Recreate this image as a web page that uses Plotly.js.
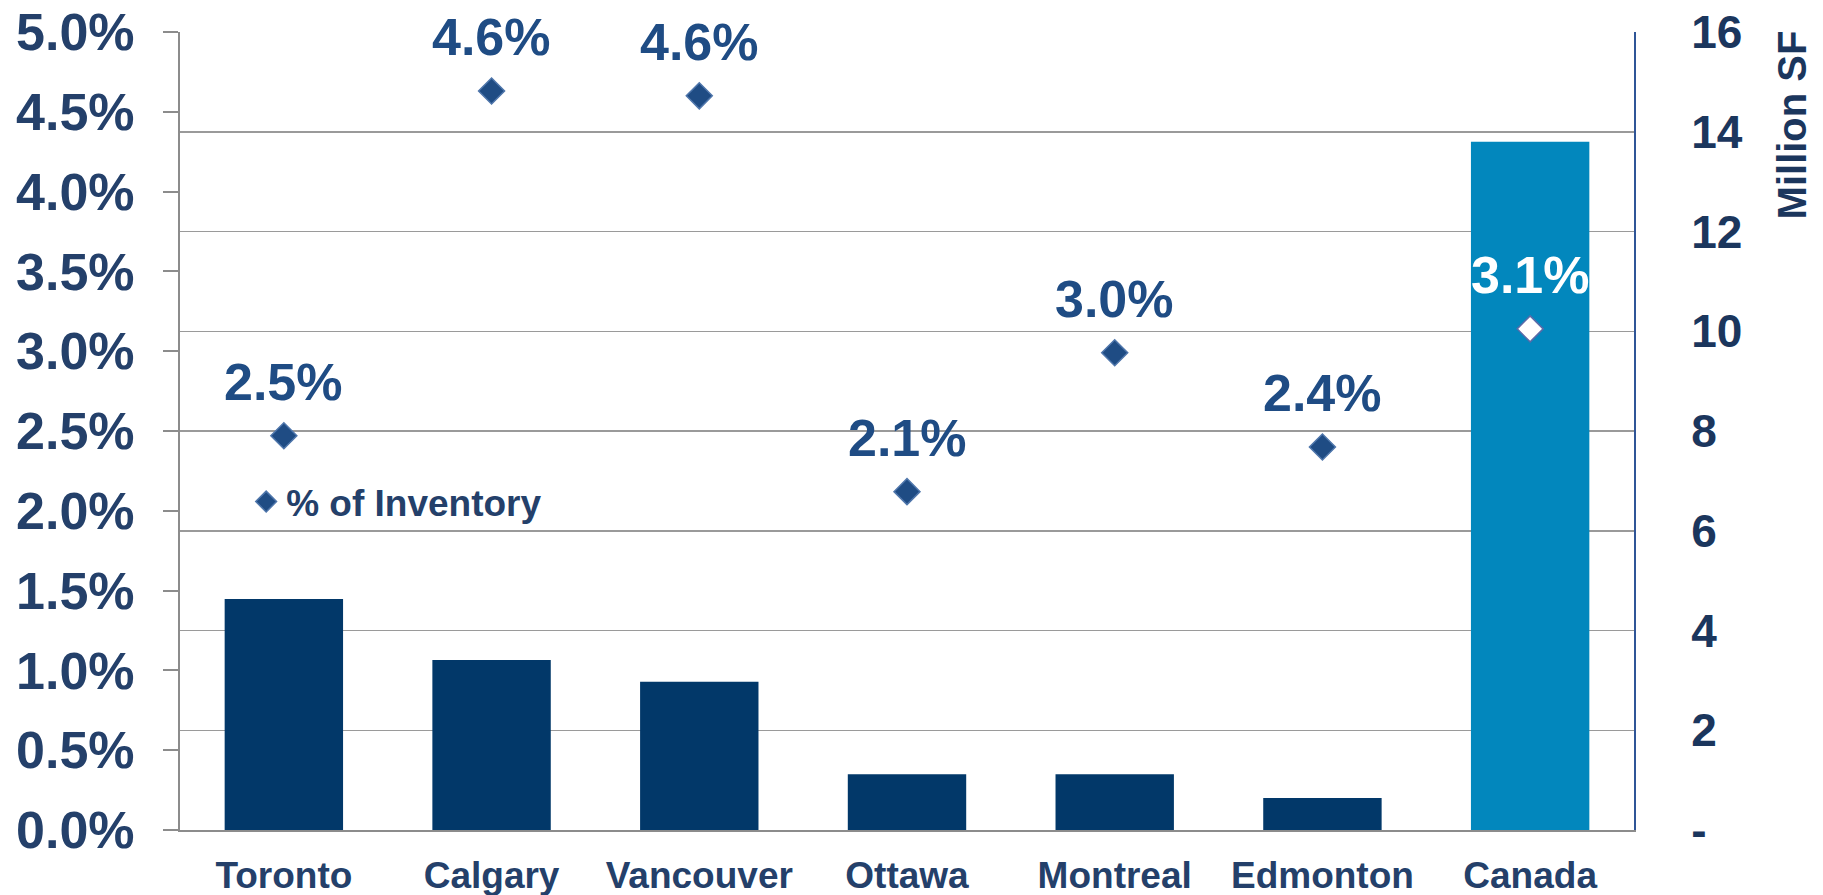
<!DOCTYPE html>
<html>
<head>
<meta charset="utf-8">
<script src="https://cdn.plot.ly/plotly-3.0.1.min.js"></script>
<style>html,body{margin:0;padding:0;background:#fff;}#chart{width:1823px;height:895px;}</style>
</head>
<body>
<div id="chart"></div>
<script>
const categories = ["Toronto", "Calgary", "Vancouver", "Ottawa", "Montreal", "Edmonton", "Canada"];
const millionSF = [4.63, 3.41, 2.97, 1.12, 1.12, 0.64, 13.8];
const pctInventory = [0.0247, 0.0463, 0.046, 0.0212, 0.0299, 0.0240, 0.0314];
const pctLabels = ["2.5%", "4.6%", "4.6%", "2.1%", "3.0%", "2.4%", "3.1%"];
const rightTickVals = [0, 2, 4, 6, 8, 10, 12, 14, 16];
const rightTickText = ["-", "2", "4", "6", "8", "10", "12", "14", "16"];

const FONT = "Liberation Sans, Arial, sans-serif";
const NAVY = "#24406a";

const barColors = categories.map(c => c === "Canada" ? "#0287bd" : "#023869");
const diamondColors = categories.map(c => c === "Canada" ? "#ffffff" : "#1f4c84");
const diamondLines = categories.map(c => c === "Canada" ? "#5a6aa8" : "#4f76ab");
const labelColors = categories.map(c => c === "Canada" ? "#ffffff" : "#1f4c84");

const traces = [
  {
    type: "bar",
    x: categories,
    y: millionSF,
    yaxis: "y",
    marker: {color: barColors},
    showlegend: false,
    hoverinfo: "skip"
  },
  {
    type: "scatter",
    mode: "markers",
    x: categories,
    y: pctInventory,
    yaxis: "y2",
    name: "% of Inventory",
    marker: {symbol: "diamond", size: 20, color: diamondColors, line: {color: diamondLines, width: 1.5}},
    showlegend: true,
    hoverinfo: "skip"
  }
];

const labelAnnotations = categories.map((c, i) => ({
  x: c,
  y: pctInventory[i],
  xref: "x",
  yref: "y2",
  text: pctLabels[i],
  showarrow: false,
  xanchor: "center",
  yanchor: "middle",
  yshift: 54,
  font: {family: FONT, size: 52, weight: "bold", color: labelColors[i]}
}));

const layout = {
  width: 1823,
  height: 895,
  margin: {l: 180, r: 189, t: 32, b: 65},
  paper_bgcolor: "#ffffff",
  plot_bgcolor: "#ffffff",
  bargap: 0.43,
  font: {family: FONT, color: NAVY},
  xaxis: {
    type: "category",
    showline: true,
    linecolor: "#8c8c8c",
    linewidth: 2,
    ticks: "",
    tickfont: {family: FONT, size: 37, weight: "bold", color: NAVY},
    ticklabelstandoff: 12,
    showgrid: false,
    zeroline: false
  },
  yaxis: {
    side: "right",
    range: [0, 16],
    tickvals: rightTickVals,
    ticktext: rightTickText,
    showgrid: true,
    gridcolor: "#9a9a9a",
    gridwidth: 1.5,
    showline: true,
    linecolor: "#2f5597",
    linewidth: 2,
    ticks: "",
    zeroline: false,
    tickfont: {family: FONT, size: 46, weight: "bold", color: "#1b365d"},
    ticklabelstandoff: 46
  },
  yaxis2: {
    overlaying: "y",
    side: "left",
    range: [0, 0.05],
    dtick: 0.005,
    tick0: 0,
    tickformat: ".1%",
    showgrid: false,
    showline: true,
    linecolor: "#8c8c8c",
    linewidth: 2,
    ticks: "outside",
    ticklen: 15,
    tickwidth: 2,
    tickcolor: "#8c8c8c",
    zeroline: false,
    tickfont: {family: FONT, size: 52, weight: "bold", color: NAVY},
    ticklabelstandoff: 18
  },
  legend: {
    x: 0.0455,
    y: 0.411,
    xanchor: "left",
    yanchor: "middle",
    bgcolor: "rgba(0,0,0,0)",
    font: {family: FONT, size: 37, weight: "bold", color: NAVY}
  },
  annotations: labelAnnotations.concat([
    {
      text: "Million SF",
      xref: "paper",
      yref: "paper",
      x: 1.1087,
      y: 0.883,
      xanchor: "center",
      yanchor: "middle",
      textangle: -90,
      showarrow: false,
      font: {family: FONT, size: 40, weight: "bold", color: "#1b365d"}
    }
  ])
};

Plotly.newPlot("chart", traces, layout, {displayModeBar: false, staticPlot: true});
</script>
</body>
</html>
